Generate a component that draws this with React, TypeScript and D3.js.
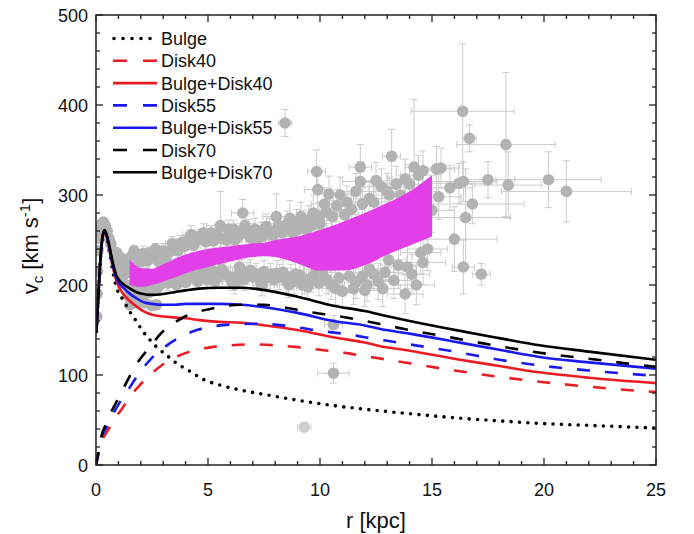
import React from "react";
import * as d3 from "d3";

// Rotation-curve components: [r (kpc), v (km/s)]
const bulgeCurve: [number, number][] = [
  [0.02, 148], [0.1, 186], [0.2, 228], [0.3, 252], [0.37, 258], [0.45, 255], [0.6, 238],
  [0.75, 215], [0.92, 197], [1.22, 183], [1.52, 170], [1.82, 159], [2.11, 148], [2.41, 139],
  [2.71, 131], [3.15, 122], [3.6, 113], [4.2, 104], [4.8, 95], [5.5, 89], [6.5, 83],
  [7.6, 78], [9, 72], [10.6, 66], [12, 62], [14, 57], [16.25, 52], [18, 49], [20, 46],
  [22, 44], [25, 41],
];

const disk40Curve: [number, number][] = [
  [0, 0], [0.1, 11], [0.25, 26], [0.5, 37], [0.8, 50], [1.2, 64], [1.52, 76], [2.0, 90],
  [2.49, 102], [3.0, 112], [3.75, 122], [4.5, 128], [5.16, 131], [6, 133], [6.9, 134],
  [8, 133], [9, 131], [10, 128], [11, 125], [12, 121], [13, 117], [14, 113], [16, 105],
  [18, 98], [20, 92], [22, 87], [25, 81],
];

const disk55Curve: [number, number][] = [
  [0, 0], [0.1, 12], [0.25, 30], [0.5, 43], [0.75, 56], [1.0, 67], [1.37, 81], [2.11, 108],
  [2.5, 119], [3.23, 134], [4.0, 145], [4.5, 150], [5, 153], [6, 156], [7.3, 157], [8, 156],
  [9, 153], [10, 149], [11.3, 145], [12, 142], [13, 138], [14, 134], [16, 126], [18, 117],
  [20, 110], [22, 105], [25, 99],
];

const disk70Curve: [number, number][] = [
  [0, 0], [0.1, 14], [0.25, 33], [0.5, 48], [0.7, 60], [1.0, 74], [1.22, 85], [1.89, 115],
  [2.5, 134], [2.78, 143], [3.5, 158], [3.97, 165], [5.2, 174], [6.5, 178], [7.5, 178],
  [8.2, 176], [9.5, 170], [10.9, 165], [12, 160], [13, 155], [14, 150], [16, 141],
  [18, 132], [20, 124], [22, 118], [25, 109],
];

const bulgeDisk40Curve: [number, number][] = [
  [0.02, 148], [0.1, 186], [0.2, 229], [0.3, 253], [0.37, 260], [0.45, 257], [0.6, 240],
  [0.75, 220], [0.92, 204], [1.22, 190], [1.52, 182], [1.82, 176], [2.11, 171], [2.5, 167],
  [3.0, 165], [3.5, 164], [4.0, 163], [4.6, 161], [5.5, 159], [6.5, 158], [7.6, 155],
  [9, 150], [10.6, 142], [12, 136], [12.7, 132], [14, 127], [16.25, 117], [18, 110],
  [19.8, 103], [22, 97], [25, 91],
];

const bulgeDisk55Curve: [number, number][] = [
  [0.02, 148], [0.1, 186], [0.2, 229], [0.3, 254], [0.37, 260], [0.45, 257], [0.6, 241],
  [0.75, 222], [0.92, 207], [1.22, 197], [1.52, 190], [1.82, 185], [2.11, 181], [2.5, 179],
  [3.0, 178], [3.5, 178], [4.0, 179], [4.6, 179], [5.5, 179], [6.5, 178], [7.6, 175],
  [9, 169], [10.6, 160], [12, 155], [12.7, 151], [14, 146], [16.25, 136], [18, 128],
  [19.8, 120], [22, 114], [25, 107],
];

const bulgeDisk70Curve: [number, number][] = [
  [0.02, 148], [0.1, 186], [0.2, 230], [0.3, 255], [0.37, 261], [0.45, 258], [0.6, 243],
  [0.75, 225], [0.92, 210], [1.22, 201], [1.52, 196], [1.82, 192], [2.11, 190], [2.5, 189],
  [3.0, 190], [3.5, 192], [4.0, 194], [4.6, 196], [5.5, 197], [6.5, 197], [7.6, 194],
  [9, 187], [10.6, 177], [12, 171], [12.7, 167], [14, 160], [16.25, 149], [18, 141],
  [19.8, 133], [22, 126], [25, 117],
];

// Envelope of the fitted rotation curve: radius, upper and lower v
const bandRadii = [1.5, 2.0, 2.5, 3.0, 3.5, 4.0, 5.0, 6.0, 7.0, 7.5, 8.0, 9.0, 10.0, 11.0, 12.0, 13.0, 14.0, 15.0];
const bandUpper = [228, 219, 218, 223, 229, 234, 240, 243, 246, 247, 250, 254, 261, 270, 280, 291, 304, 322];
const bandLower = [200, 198, 200, 204, 208, 213, 220, 226, 231, 232, 231, 224, 216, 216, 222, 234, 244, 254];

// Observations: [r, v, error in r, error in v]
const observations: [number, number, number, number][] = [
  // inner bulge region
  [0.03, 165, 0, 0], [0.05, 190, 0, 0], [0.07, 215, 0, 0], [0.09, 238, 0, 0], [0.12, 252, 0, 0],
  [0.18, 263, 0, 0], [0.25, 268, 0, 0], [0.33, 270, 0, 0], [0.42, 266, 0, 0], [0.5, 260, 0, 0],
  [0.58, 252, 0, 0], [0.66, 246, 0, 0], [0.75, 238, 0, 0], [0.85, 230, 0, 0], [0.92, 236, 0, 0],
  [1.0, 224, 0, 0], [1.08, 218, 0, 0], [1.15, 230, 0, 0], [1.22, 211, 0, 0], [1.3, 222, 0, 0],
  [1.37, 200, 0, 0], [1.44, 188, 0, 0], [1.5, 214, 0, 0], [1.52, 178, 0, 0], [1.62, 196, 0, 0],
  [1.7, 186, 0, 0], [1.82, 180, 0, 0], [1.95, 190, 0, 0], [2.2, 180, 0, 0], [2.5, 177, 0, 0],
  [2.7, 178, 0, 0],
  // 1.5 - 5.5 kpc, above the envelope
  [1.6, 232, 0.2, 6], [1.7, 238, 0.2, 6], [1.85, 228, 0.2, 6], [2.0, 226, 0.2, 6], [2.1, 235, 0.3, 8],
  [2.3, 227, 0.2, 6], [2.4, 236, 0.2, 6], [2.55, 232, 0.3, 8], [2.65, 240, 0.2, 6], [2.8, 226, 0.2, 6],
  [2.9, 232, 0.2, 6], [3.0, 238, 0.3, 8], [3.1, 228, 0.3, 8], [3.3, 237, 0.3, 8], [3.4, 246, 0.3, 8],
  [3.55, 243, 0.3, 8], [3.65, 238, 0.3, 8], [3.8, 247, 0.3, 8], [3.97, 243, 0.3, 10], [4.1, 250, 0.3, 8],
  [4.25, 256, 0.4, 10], [4.35, 244, 0.3, 8], [4.5, 250, 0.3, 8], [4.6, 254, 0.3, 8], [4.8, 258, 0.4, 10],
  [4.9, 248, 0.3, 8], [5.05, 252, 0.3, 8], [5.15, 258, 0.3, 8], [5.25, 249, 0.3, 8],
  // 1.5 - 5.5 kpc, below the envelope
  [1.75, 196, 0.2, 6], [1.9, 198, 0.2, 6], [2.0, 190, 0.2, 6], [2.15, 202, 0.2, 6], [2.26, 213, 0.2, 6],
  [2.35, 192, 0.2, 6], [2.45, 198, 0.2, 6], [2.6, 206, 0.2, 6], [2.7, 195, 0.2, 6], [2.85, 200, 0.2, 6],
  [2.95, 209, 0.3, 8], [3.1, 214, 0.3, 8], [3.2, 202, 0.3, 8], [3.35, 208, 0.3, 8], [3.5, 206, 0.3, 8],
  [3.6, 200, 0.3, 8], [3.75, 209, 0.3, 8], [3.9, 212, 0.3, 8], [4.0, 203, 0.3, 8], [4.1, 208, 0.3, 8],
  [4.2, 214, 0.3, 8], [4.4, 211, 0.3, 8], [4.55, 204, 0.3, 8], [4.7, 210, 0.3, 8], [4.8, 216, 0.3, 8],
  [4.95, 206, 0.3, 8], [5.05, 212, 0.3, 8], [5.2, 216, 0.3, 8], [5.3, 204, 0.3, 8], [5.45, 209, 0.3, 10],
  // 5.5 - 11 kpc, above the envelope
  [5.42, 257, 0.3, 10], [5.55, 266, 0.6, 38], [5.6, 252, 0.3, 10], [5.8, 250, 0.3, 10], [5.9, 262, 0.3, 10],
  [6.0, 256, 0.4, 12], [6.13, 262, 0.3, 10], [6.2, 250, 0.3, 10], [6.35, 254, 0.3, 10], [6.45, 258, 0.3, 10],
  [6.55, 280, 0.5, 15], [6.65, 266, 0.4, 12], [6.8, 261, 0.4, 12], [6.9, 252, 0.4, 12], [7.0, 256, 0.4, 12],
  [7.1, 262, 0.4, 12], [7.2, 251, 0.5, 14], [7.35, 258, 0.4, 12], [7.45, 254, 0.4, 12], [7.6, 265, 0.5, 14],
  [7.75, 260, 0.5, 14], [7.9, 255, 0.5, 14], [8.05, 276, 0.6, 25], [8.15, 266, 0.4, 12], [8.3, 258, 0.5, 14],
  [8.44, 380, 0.3, 15], [8.45, 262, 0.5, 14], [8.55, 268, 0.5, 14], [8.66, 274, 0.5, 20], [8.8, 258, 0.5, 14],
  [8.95, 268, 0.5, 16], [9.05, 262, 0.5, 14], [9.15, 276, 0.5, 16], [9.26, 265, 0.6, 18], [9.4, 262, 0.5, 16],
  [9.5, 272, 0.5, 16], [9.6, 266, 0.5, 16], [9.7, 280, 0.6, 20], [9.85, 326, 0.4, 24], [9.9, 306, 0.6, 22],
  [9.95, 276, 0.5, 16], [10.0, 268, 0.5, 16], [10.2, 290, 0.6, 18], [10.3, 281, 0.6, 18], [10.4, 301, 0.5, 20],
  [10.55, 276, 0.6, 18], [10.75, 288, 0.5, 18], [10.9, 300, 0.6, 20],
  // 5.5 - 11 kpc, below the envelope
  [5.6, 218, 0.3, 10], [5.7, 214, 0.3, 10], [5.9, 210, 0.3, 10], [6.06, 204, 0.4, 10], [6.2, 200, 0.3, 10],
  [6.3, 210, 0.3, 10], [6.4, 220, 0.4, 12], [6.5, 216, 0.4, 12], [6.6, 206, 0.4, 12], [6.73, 213, 0.4, 12],
  [6.9, 216, 0.4, 12], [7.0, 209, 0.4, 12], [7.15, 212, 0.4, 12], [7.3, 206, 0.5, 12], [7.4, 200, 0.4, 12],
  [7.5, 215, 0.4, 12], [7.65, 208, 0.4, 12], [7.8, 212, 0.5, 12], [7.95, 206, 0.5, 12], [8.07, 213, 0.5, 14],
  [8.2, 209, 0.5, 14], [8.35, 214, 0.5, 14], [8.5, 205, 0.5, 14], [8.6, 200, 0.5, 14], [8.7, 209, 0.5, 14],
  [8.85, 204, 0.5, 14], [8.9, 212, 0.5, 14], [9.1, 211, 0.6, 14], [9.2, 200, 0.5, 14], [9.3, 206, 0.6, 16],
  [9.45, 198, 0.5, 14], [9.6, 206, 0.5, 14], [9.7, 210, 0.5, 14], [9.85, 217, 0.6, 16], [9.95, 202, 0.5, 14],
  [10.1, 214, 0.6, 16], [10.3, 206, 0.6, 16], [10.5, 200, 0.6, 16], [10.7, 196, 0.6, 18], [10.85, 208, 0.6, 18],
  [11.0, 193, 0.6, 18], [10.6, 156, 0.4, 10], [10.6, 102, 0.7, 11],
  // 11 - 16 kpc
  [11.1, 278, 0.6, 18], [11.2, 292, 0.6, 18], [11.4, 284, 0.6, 18], [11.6, 304, 0.8, 20], [11.8, 315, 0.8, 22],
  [11.8, 331, 0.5, 25], [11.9, 290, 0.7, 18], [12.2, 296, 0.7, 18], [12.4, 292, 0.7, 18], [12.5, 316, 0.7, 20],
  [12.75, 309, 1.0, 20], [13.0, 304, 0.8, 20], [13.1, 300, 0.8, 20], [13.2, 343, 0.4, 30], [13.4, 312, 0.8, 20],
  [13.6, 300, 0.8, 22], [13.8, 318, 0.8, 22], [14.0, 312, 0.8, 22], [14.2, 331, 0.4, 75], [14.4, 322, 0.8, 22],
  [14.6, 327, 0.6, 22], [15.2, 329, 0.8, 25], [15.4, 330, 0.8, 22], [15.0, 283, 1.0, 25], [15.3, 298, 1.0, 25],
  [15.8, 308, 1.0, 25],
  [11.3, 210, 0.6, 18], [11.5, 196, 0.6, 18], [11.6, 203, 0.7, 18], [11.9, 210, 0.7, 18], [12.0, 194, 0.7, 18],
  [12.1, 200, 0.7, 18], [12.2, 218, 0.7, 18], [12.4, 212, 0.7, 18], [12.6, 204, 0.8, 20], [12.8, 196, 0.8, 20],
  [12.9, 214, 0.8, 20], [13.07, 228, 0.8, 22], [13.3, 205, 0.8, 20], [13.5, 222, 0.8, 22], [13.8, 190, 0.8, 22],
  [13.9, 220, 0.9, 24], [14.1, 212, 0.8, 22], [14.3, 200, 0.8, 22], [14.5, 236, 0.9, 24], [14.6, 225, 1.0, 25],
  [14.8, 240, 0.9, 24],
  // outer disk
  [16.0, 251, 1.9, 36], [16.2, 313, 1.2, 22], [16.4, 315, 1.5, 22], [16.37, 393, 2.3, 75], [16.5, 275, 2.0, 54],
  [16.67, 363, 0.3, 15], [16.8, 290, 2.3, 22], [16.4, 220, 0.5, 30], [17.2, 212, 0.4, 12], [17.5, 317, 1.2, 20],
  [18.3, 356, 2.2, 80], [18.4, 311, 1.5, 37], [20.2, 317, 2.35, 31], [21.0, 304, 2.9, 34],
];

// Low-weight point drawn fainter
const faintObservations: [number, number, number, number][] = [[9.3, 42, 0.3, 3]];

const xMajorTicks = [0, 5, 10, 15, 20, 25];
const yMajorTicks = [0, 100, 200, 300, 400, 500];

const RED = "#ec1c24";
const BLUE = "#1a1aee";
const BLACK = "#000000";

type Style = "dotted" | "dashed" | "solid";
const series: { name: string; data: [number, number][]; color: string; style: Style }[] = [
  { name: "Bulge", data: bulgeCurve, color: BLACK, style: "dotted" },
  { name: "Disk40", data: disk40Curve, color: RED, style: "dashed" },
  { name: "Bulge+Disk40", data: bulgeDisk40Curve, color: RED, style: "solid" },
  { name: "Disk55", data: disk55Curve, color: BLUE, style: "dashed" },
  { name: "Bulge+Disk55", data: bulgeDisk55Curve, color: BLUE, style: "solid" },
  { name: "Disk70", data: disk70Curve, color: BLACK, style: "dashed" },
  { name: "Bulge+Disk70", data: bulgeDisk70Curve, color: BLACK, style: "solid" },
];

const FONT = "'Liberation Sans', Arial, Helvetica, sans-serif";

function strokeProps(style: Style) {
  if (style === "dotted") return { strokeDasharray: "0 8.4", strokeLinecap: "round" as const, strokeWidth: 3.6 };
  if (style === "dashed") return { strokeDasharray: "13 15", strokeLinecap: "butt" as const, strokeWidth: 2.6 };
  return { strokeWidth: 2.6, strokeLinecap: "butt" as const };
}

export default function App() {
  const W = 694;
  const H = 534;
  const left = 96, right = 656, top = 15, bottom = 465;

  const x = d3.scaleLinear().domain([0, 25]).range([left, right]);
  const y = d3.scaleLinear().domain([0, 500]).range([bottom, top]);

  const line = d3
    .line<[number, number]>()
    .x((d) => x(d[0]))
    .y((d) => y(d[1]))
    .curve(d3.curveMonotoneX);

  const bandRows = bandRadii.map((r, i) => ({ r, hi: bandUpper[i], lo: bandLower[i] }));
  const band = d3
    .area<{ r: number; hi: number; lo: number }>()
    .x((d) => x(d.r))
    .y0((d) => y(d.lo))
    .y1((d) => y(d.hi))
    .curve(d3.curveMonotoneX)(bandRows);

  const xMinor = d3.range(0, 26, 1);
  const yMinor = d3.range(0, 501, 20);

  const errColor = "#cccccc";
  const cap = 3.5;

  const renderObs = (pts: [number, number, number, number][], fill: string, opacity: number, key: string) => (
    <g key={key} opacity={opacity}>
      {pts.map(([r, v, er, ev], i) => {
        const cx = x(r), cy = y(v);
        return (
          <g key={i} stroke={errColor} strokeWidth={1} fill="none">
            {er > 0 && (
              <>
                <line x1={x(r - er)} x2={x(r + er)} y1={cy} y2={cy} />
                <line x1={x(r - er)} x2={x(r - er)} y1={cy - cap} y2={cy + cap} />
                <line x1={x(r + er)} x2={x(r + er)} y1={cy - cap} y2={cy + cap} />
              </>
            )}
            {ev > 0 && (
              <>
                <line x1={cx} x2={cx} y1={y(v - ev)} y2={y(v + ev)} />
                <line x1={cx - cap} x2={cx + cap} y1={y(v - ev)} y2={y(v - ev)} />
                <line x1={cx - cap} x2={cx + cap} y1={y(v + ev)} y2={y(v + ev)} />
              </>
            )}
          </g>
        );
      })}
      {pts.map(([r, v], i) => (
        <circle key={"c" + i} cx={x(r)} cy={y(v)} r={5.8} fill={fill} />
      ))}
    </g>
  );

  const legendX0 = 113, legendX1 = 157, legendTextX = 161, legendY0 = 38.5, legendDy = 22.3;

  return (
    <div style={{ position: "absolute", left: 0, top: 0 }}>
      <svg width={W} height={H} viewBox={`0 0 ${W} ${H}`} style={{ display: "block", background: "#fff" }}>
        <defs>
          <clipPath id="plotArea">
            <rect x={left} y={top} width={right - left} height={bottom - top} />
          </clipPath>
        </defs>
        <rect x={0} y={0} width={W} height={H} fill="#fff" />

        <g clipPath="url(#plotArea)">
          {renderObs(faintObservations, "#c4c4c4", 0.8, "faint")}
          {renderObs(observations, "#b3b3b3", 1, "obs")}
          <path d={band || ""} fill="#e23fe8" />
          {series.map((s) => (
            <path key={s.name} d={line(s.data) || ""} fill="none" stroke={s.color} {...strokeProps(s.style)} />
          ))}
        </g>

        {/* axes frame */}
        <rect x={left} y={top} width={right - left} height={bottom - top} fill="none" stroke="#222" strokeWidth={1.5} />

        {/* ticks on all four sides, pointing inward */}
        <g stroke="#222" strokeWidth={1.3}>
          {xMinor.map((t) => {
            const len = t % 5 === 0 ? 7 : 4;
            return (
              <g key={"xt" + t}>
                <line x1={x(t)} x2={x(t)} y1={bottom} y2={bottom - len} />
                <line x1={x(t)} x2={x(t)} y1={top} y2={top + len} />
              </g>
            );
          })}
          {yMinor.map((t) => {
            const len = t % 100 === 0 ? 7 : 4;
            return (
              <g key={"yt" + t}>
                <line x1={left} x2={left + len} y1={y(t)} y2={y(t)} />
                <line x1={right} x2={right - len} y1={y(t)} y2={y(t)} />
              </g>
            );
          })}
        </g>

        {/* tick labels */}
        <g fontFamily={FONT} fontSize={18} fill="#111">
          {xMajorTicks.map((t) => (
            <text key={"xl" + t} x={x(t)} y={bottom + 31} textAnchor="middle">
              {t}
            </text>
          ))}
          {yMajorTicks.map((t) => (
            <text key={"yl" + t} x={left - 8} y={y(t) + 6.5} textAnchor="end">
              {t}
            </text>
          ))}
        </g>

        {/* axis titles */}
        <text x={(left + right) / 2} y={528} textAnchor="middle" fontFamily={FONT} fontSize={22} fill="#111">
          r [kpc]
        </text>
        <text
          transform={`translate(38, 246) rotate(-90)`}
          textAnchor="middle"
          fontFamily={FONT}
          fontSize={22}
          fill="#111"
        >
          v<tspan fontSize={15} dy={5}>c</tspan>
          <tspan dy={-5}> [km s</tspan>
          <tspan fontSize={15} dy={-8}>-1</tspan>
          <tspan dy={8}>]</tspan>
        </text>

        {/* legend */}
        <g fontFamily={FONT} fontSize={18} fill="#111">
          {series.map((s, i) => {
            const cy = legendY0 + i * legendDy;
            const sp = strokeProps(s.style);
            const dash = s.style === "dashed" ? "14 16" : s.style === "dotted" ? "0 9" : undefined;
            return (
              <g key={"lg" + s.name}>
                <line
                  x1={s.style === "dotted" ? legendX0 + 1 : legendX0}
                  x2={s.style === "dotted" ? legendX1 - 6 : legendX1}
                  y1={cy}
                  y2={cy}
                  stroke={s.color}
                  strokeWidth={sp.strokeWidth}
                  strokeLinecap={sp.strokeLinecap}
                  strokeDasharray={dash}
                />
                <text x={legendTextX} y={cy + 6.5}>
                  {s.name}
                </text>
              </g>
            );
          })}
        </g>
      </svg>
    </div>
  );
}
